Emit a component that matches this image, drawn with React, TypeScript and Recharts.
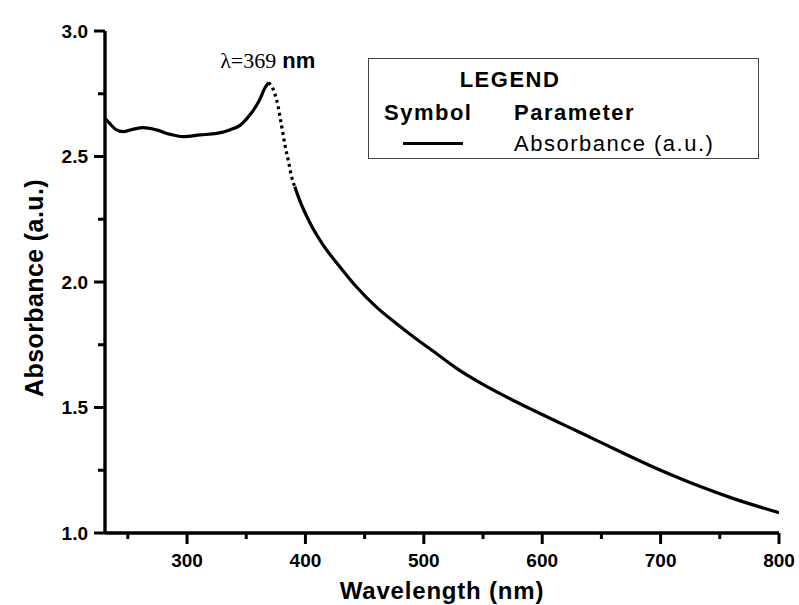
import { LineChart, Line, XAxis, YAxis, ReferenceDot, Legend } from "recharts";

const SANS = "'Liberation Sans', Arial, sans-serif";
const SERIF = "'Liberation Serif', 'Times New Roman', serif";

// UV-vis absorbance spectrum
const wavelengths = [
  231, 235, 240, 246, 254, 263, 274, 286, 297, 311, 325, 336, 345, 353, 361, 366, 369,
  374, 377, 379, 381, 383, 386, 388, 391,
  395, 404, 415, 429, 443, 460, 477, 492, 508, 528, 547, 564, 576, 592, 621, 649, 700, 733, 761, 800,
];
const absorbance = [
  2.650, 2.630, 2.607, 2.599, 2.608, 2.615, 2.606, 2.588, 2.579, 2.586, 2.592, 2.606, 2.625, 2.665, 2.723, 2.775, 2.795,
  2.752, 2.698, 2.645, 2.592, 2.539, 2.473, 2.426, 2.380,
  2.327, 2.234, 2.147, 2.061, 1.981, 1.900, 1.834, 1.779, 1.724, 1.655, 1.600, 1.556, 1.527, 1.490, 1.425, 1.362, 1.250, 1.186, 1.138, 1.081,
];

// the spectrometer drew 369-391 nm as sparse (dotted) points
const PEAK_WL = 369;
const PEAK_ABS = 2.795;
const DOTTED_END_WL = 391;

const X_DOMAIN: [number, number] = [230.7, 800];
const Y_DOMAIN: [number, number] = [1, 3];
const xTicks = [250, 300, 350, 400, 450, 500, 550, 600, 650, 700, 750, 800];
const xMajor = [300, 400, 500, 600, 700, 800];
const yTicks = [1.0, 1.25, 1.5, 1.75, 2.0, 2.25, 2.5, 2.75, 3.0];
const yMajor = [1.0, 1.5, 2.0, 2.5, 3.0];

const points = wavelengths.map((wl, i) => ({ wl, abs: absorbance[i] }));
const solidBefore = points.filter((p) => p.wl <= PEAK_WL);
const dotted = points.filter((p) => p.wl >= PEAK_WL && p.wl <= DOTTED_END_WL);
const solidAfter = points.filter((p) => p.wl >= DOTTED_END_WL);

const FRAME = { stroke: "#000", strokeWidth: 3.4 };

function XTick({ x, y, payload }: any) {
  const major = xMajor.includes(payload.value);
  return (
    <g>
      <line x1={x} x2={x} y1={y} y2={y + (major ? 11 : 6)} stroke="#000" strokeWidth={3} />
      {major && (
        <text x={x} y={y + 34} textAnchor="middle" fontFamily={SANS} fontWeight="bold" fontSize={19} fill="#000">
          {payload.value}
        </text>
      )}
    </g>
  );
}

function YTick({ x, y, payload }: any) {
  const major = yMajor.includes(payload.value);
  return (
    <g>
      <line x1={x - (major ? 11 : 7)} x2={x} y1={y} y2={y} stroke="#000" strokeWidth={3} />
      {major && (
        <text x={x - 17} y={y} dy="0.35em" textAnchor="end" fontFamily={SANS} fontWeight="bold" fontSize={19} fill="#000">
          {payload.value.toFixed(1)}
        </text>
      )}
    </g>
  );
}

function XTitle({ viewBox }: any) {
  return (
    <text x={viewBox.x + viewBox.width / 2} y={599} textAnchor="middle" fontFamily={SANS} fontWeight="bold" fontSize={24} letterSpacing={0.8} fill="#000">
      Wavelength (nm)
    </text>
  );
}

function YTitle() {
  return (
    <text x={43} y={288} textAnchor="middle" transform="rotate(-90, 43, 288)" fontFamily={SANS} fontWeight="bold" fontSize={25} letterSpacing={0.4} fill="#000">
      Absorbance (a.u.)
    </text>
  );
}

function PeakLabel({ viewBox }: any) {
  const cx = viewBox.x + viewBox.width / 2;
  const cy = viewBox.y + viewBox.height / 2;
  return (
    <text x={cx - 1} y={cy - 14} textAnchor="middle" fill="#000">
      <tspan fontFamily={SERIF} fontSize={22}>λ=369</tspan>
      <tspan dx={6} fontFamily={SANS} fontWeight="bold" fontSize={22}>nm</tspan>
    </text>
  );
}

const legendText = { position: "absolute" as const, lineHeight: "22px", fontSize: 22, letterSpacing: 1.5, whiteSpace: "nowrap" as const };

function LegendBox() {
  return (
    <div style={{ position: "relative", width: 391, height: 101, border: "1.5px solid #444", boxSizing: "border-box", background: "#fff", fontFamily: SANS, color: "#000" }}>
      <div style={{ ...legendText, left: 0, width: 282, top: 10, textAlign: "center", fontWeight: "bold" }}>LEGEND</div>
      <div style={{ ...legendText, left: 15, top: 43, fontWeight: "bold" }}>Symbol</div>
      <div style={{ ...legendText, left: 145, top: 43, fontWeight: "bold" }}>Parameter</div>
      <div style={{ position: "absolute", left: 34, top: 83, width: 60, height: 3, background: "#000" }} />
      <div style={{ ...legendText, left: 145, top: 74 }}>Absorbance (a.u.)</div>
    </div>
  );
}

export default function App() {
  return (
    <div style={{ position: "absolute", left: 0, top: 0, width: 799, height: 605, background: "#fff" }}>
      <LineChart width={799} height={605} margin={{ top: 31, right: 20, bottom: 0, left: 0 }}>
        <XAxis
          dataKey="wl"
          type="number"
          domain={X_DOMAIN}
          allowDataOverflow
          ticks={xTicks}
          interval={0}
          height={72}
          axisLine={FRAME}
          tickLine={false}
          tickSize={0}
          tickMargin={0}
          tick={(p: any) => <XTick {...p} />}
          label={<XTitle />}
        />
        {/* top and right edges of the box */}
        <XAxis xAxisId="top" orientation="top" dataKey="wl" type="number" domain={X_DOMAIN} allowDataOverflow height={0} axisLine={FRAME} tick={false} tickLine={false} />
        <YAxis
          type="number"
          domain={Y_DOMAIN}
          ticks={yTicks}
          interval={0}
          width={105}
          axisLine={FRAME}
          tickLine={false}
          tickSize={0}
          tickMargin={0}
          tick={(p: any) => <YTick {...p} />}
          label={<YTitle />}
        />
        <YAxis yAxisId="right" orientation="right" type="number" domain={Y_DOMAIN} width={0} axisLine={FRAME} tick={false} tickLine={false} />
        <Line data={solidBefore} dataKey="abs" name="Absorbance (a.u.)" type="monotone" stroke="#000" strokeWidth={3.2} dot={false} isAnimationActive={false} />
        <Line data={dotted} dataKey="abs" legendType="none" type="monotone" stroke="#000" strokeWidth={3.2} strokeDasharray="3 3.5" dot={false} isAnimationActive={false} />
        <Line data={solidAfter} dataKey="abs" legendType="none" type="monotone" stroke="#000" strokeWidth={3.2} dot={false} isAnimationActive={false} />
        <ReferenceDot x={PEAK_WL} y={PEAK_ABS} r={0} fill="none" stroke="none" ifOverflow="visible" label={<PeakLabel />} />
        <Legend
          layout="horizontal"
          verticalAlign="middle"
          align="center"
          content={<LegendBox />}
          wrapperStyle={{ left: 368, top: 58, width: 391, height: 101 }}
        />
      </LineChart>
    </div>
  );
}
